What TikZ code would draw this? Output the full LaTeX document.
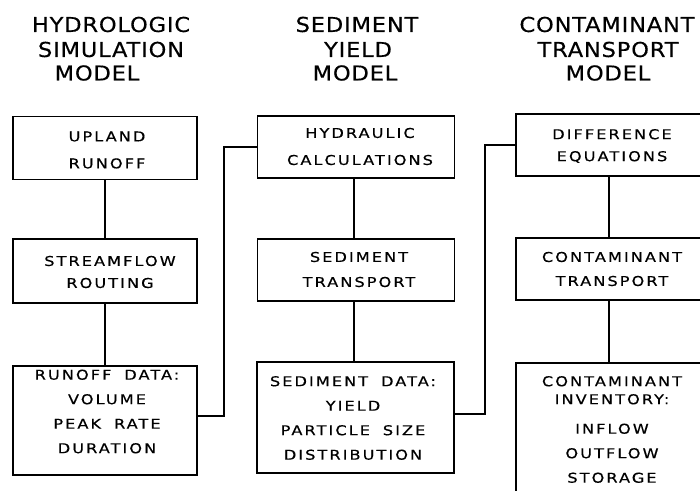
\documentclass[tikz,border=0pt]{standalone}
\usepackage{fontspec}
\setmainfont{DejaVu Sans}
\newfontfamily\titlefont[LetterSpace=4,FakeStretch=1.1,FakeBold=0.4]{DejaVu Sans}
\newfontfamily\boxfont[LetterSpace=15,WordSpace=1.8,FakeStretch=1.2,FakeBold=0.5]{DejaVu Sans}
\begin{document}
\begin{tikzpicture}[x=1pt,y=-1pt,
  box/.style={draw, line width=1.1pt, inner sep=0pt},
  conn/.style={draw, line width=1.1pt},
  ttl/.style={inner sep=0pt, font={\titlefont\fontsize{20.5}{24.5}\selectfont}},
  txt/.style={inner sep=0pt, align=center, font={\boxfont\fontsize{13.5}{24.5}\selectfont}}]
\useasboundingbox (0,0) rectangle (700,490);
\begin{scope}
\clip (0,0) rectangle (700,490);
% titles
\node[ttl] (h1) at (111,24.5) {HYDROLOGIC};
\node[ttl] (h2) at (111,49.5) {SIMULATION};
\node[ttl] (h3) at (97,73) {MODEL};
\node[ttl] (s1) at (357,24.5) {SEDIMENT};
\node[ttl] (s2) at (358,49.5) {YIELD};
\node[ttl] (s3) at (355,73) {MODEL};
\node[ttl] (k1) at (607,24.5) {CONTAMINANT};
\node[ttl] (k2) at (608,49.5) {TRANSPORT};
\node[ttl] (k3) at (608,73) {MODEL};
% boxes
\node[box, minimum width=184pt, minimum height=63pt] (c1b1) at (105,148) {};
\node[box, minimum width=184pt, minimum height=64pt] (c1b2) at (105,271) {};
\node[box, minimum width=184pt, minimum height=109pt] (c1b3) at (105,420.5) {};
\node[box, minimum width=197pt, minimum height=62pt] (c2b1) at (356,147) {};
\node[box, minimum width=197pt, minimum height=62pt] (c2b2) at (356,270) {};
\node[box, minimum width=197pt, minimum height=111pt] (c2b3) at (355.5,417.5) {};
\node[box, minimum width=188pt, minimum height=62pt] (c3b1) at (610,145) {};
\node[box, minimum width=188pt, minimum height=62pt] (c3b2) at (610,269) {};
\node[box, minimum width=188pt, minimum height=140pt] (c3b3) at (610,433) {};
% box texts
\node[txt, font={\boxfont\fontsize{13.5}{27}\selectfont}] (t11) at (107,150) {UPLAND\\RUNOFF};
\node[txt, font={\boxfont\fontsize{13.5}{22}\selectfont}] (t12) at (110,272) {STREAMFLOW\\ROUTING};
\node[txt] (t13) at (107,411.5) {RUNOFF DATA:\\VOLUME\\PEAK RATE\\DURATION};
\node[txt, font={\boxfont\fontsize{13.5}{27}\selectfont}] (t21) at (360,146.5) {HYDRAULIC\\CALCULATIONS};
\node[txt, font={\boxfont\fontsize{13.5}{25}\selectfont}] (t22) at (359,269.5) {SEDIMENT\\TRANSPORT};
\node[txt] (t23) at (353,418) {SEDIMENT DATA:\\YIELD\\PARTICLE SIZE\\DISTRIBUTION};
\node[txt, font={\boxfont\fontsize{13.5}{22}\selectfont}] (t31) at (612,146) {DIFFERENCE\\EQUATIONS};
\node[txt, font={\boxfont\fontsize{13.5}{24}\selectfont}] (t32) at (612,269) {CONTAMINANT\\TRANSPORT};
\node[txt] (t33) at (612,429.5) {CONTAMINANT\\[-6.5pt]INVENTORY:\\[5pt]INFLOW\\OUTFLOW\\STORAGE};
% connectors
\coordinate (x2) at (354,0);
\coordinate (j1) at (224,0);
\coordinate (j2) at (485,0);
\draw[conn] (c1b1.south) -- (c1b2.north);
\draw[conn] (c1b2.south) -- (c1b3.north);
\draw[conn] (c2b1.south -| x2) -- (c2b2.north -| x2);
\draw[conn] (c2b2.south -| x2) -- (c2b3.north -| x2);
\draw[conn] ([xshift=-1pt]c3b1.south) -- ([xshift=-1pt]c3b2.north);
\draw[conn] ([xshift=-1pt]c3b2.south) -- ([xshift=-1pt]c3b3.north);
\draw[conn] ([yshift=4.5pt]c1b3.east) -| (j1 |- c2b1.west) -- (c2b1.west);
\draw[conn] ([yshift=3.5pt]c2b3.east) -| (j2 |- c3b1.west) -- (c3b1.west);
\end{scope}
\end{tikzpicture}
\end{document}
